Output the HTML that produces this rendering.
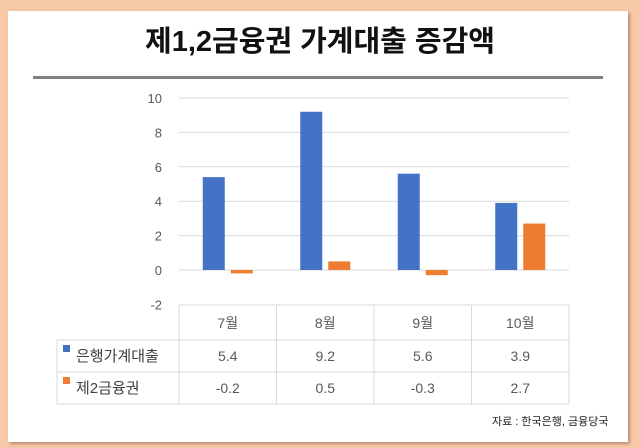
<!DOCTYPE html>
<html><head><meta charset="utf-8">
<style>
body{margin:0;width:640px;height:448px;background:#f8c9a9;font-family:"Liberation Sans","Noto Sans CJK KR",sans-serif;overflow:hidden}
#card{position:absolute;left:8px;top:11px;width:620px;height:431px;background:#fff;box-shadow:2px 2px 3px rgba(120,80,50,.5)}
#title{position:absolute;left:0;top:18px;width:640px;text-align:center;font-size:29px;font-weight:bold;color:#111}
#rule{position:absolute;left:33px;top:76px;width:570px;height:3px;background:#808080}
#src{position:absolute;left:492px;top:413px;font-size:11px;color:#222}
</style></head><body>
<div id="card"></div>
<div id="title">제1,2금융권 가계대출 증감액</div>
<div id="rule"></div>
<svg id="chart" width="640" height="448" style="position:absolute;left:0;top:0"></svg>
<div id="src">자료 : 한국은행, 금융당국</div>
<script>
const categories=["7월","8월","9월","10월"];
const bankValues=[5.4,9.2,5.6,3.9];
const secondValues=[-0.2,0.5,-0.3,2.7];
const bankLabels=["5.4","9.2","5.6","3.9"];
const secondLabels=["-0.2","0.5","-0.3","2.7"];
const yTicks=[-2,0,2,4,6,8,10];
const seriesNames=["은행가계대출","제2금융권"];
const NS="http://www.w3.org/2000/svg",svg=document.getElementById('chart');
const x0=179,x1=569,colW=(x1-x0)/categories.length;
const y=v=>270-v*17.2;
function mk(t,a,txt){const e=document.createElementNS(NS,t);for(const k in a)e.setAttribute(k,a[k]);if(txt!==undefined)e.textContent=txt;svg.appendChild(e);return e;}
yTicks.forEach(t=>{
 if(t>-2){const l=mk('line',{x1:x0,x2:x1,y1:y(t),y2:y(t),stroke:'#d9d9d9','stroke-width':1});
 
 }
 const tx=mk('text',{x:162,y:y(t)+5,'text-anchor':'end','font-size':13,fill:'#595959'},String(t));
 
 
});
categories.forEach((c,i)=>{
 const cx=x0+colW*(i+0.5);
 const bv=bankValues[i],sv=secondValues[i];
 const b=mk('rect',{x:cx-25,y:Math.min(y(bv),y(0)),width:22,height:Math.abs(y(bv)-y(0)),fill:'#4472c4'});
 
 
 const s=mk('rect',{x:cx+3,y:Math.min(y(sv),y(0)),width:22,height:Math.abs(y(sv)-y(0)),fill:'#ed7d31'});
 
 
 const h=mk('text',{x:cx,y:328,'text-anchor':'middle','font-size':14,fill:'#595959'},c);
 
 
 const t1=mk('text',{x:cx,y:361,'text-anchor':'middle','font-size':14,fill:'#595959'},bankLabels[i]);
 
 
 const t2=mk('text',{x:cx,y:393,'text-anchor':'middle','font-size':14,fill:'#595959'},secondLabels[i]);
 
 
});
// table lines
const tl=[[x0,305,x1,305],[57,340,x1,340],[57,372,x1,372],[57,404,x1,404],[57,340,57,404]];
for(let i=0;i<=categories.length;i++)tl.push([x0+colW*i,305,x0+colW*i,404]);
tl.forEach(p=>{const l=mk('line',{x1:p[0],y1:p[1],x2:p[2],y2:p[3],stroke:'#d9d9d9','stroke-width':1});
 
 });
const cols=['#4472c4','#ed7d31'];
seriesNames.forEach((n,i)=>{
 const yy=i?384:352;
 const r=mk('rect',{x:63,y:yy-7,width:7,height:7,fill:cols[i]});
 
 
 const t=mk('text',{x:76,y:yy+9,'font-size':15,fill:'#404040'},n);
 
 
});
</script>
</body></html>
